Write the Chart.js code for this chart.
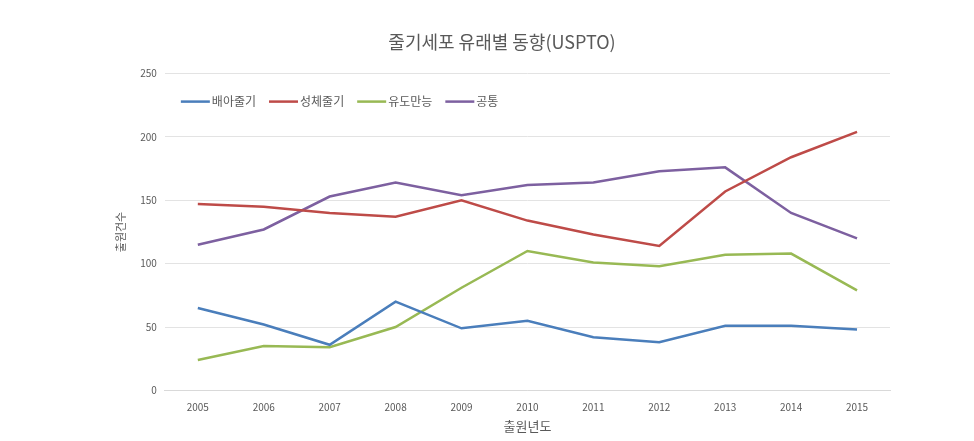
<!DOCTYPE html>
<html>
<head>
<meta charset="utf-8">
<script src="https://cdn.jsdelivr.net/npm/chart.js@4"></script>
<style>
  html, body { margin: 0; padding: 0; background: #fff; }
  #wrap { width: 974px; height: 441px; }
</style>
</head>
<body>
<div id="wrap"><canvas id="chart-line"></canvas></div>
<script>
const years = ["2005", "2006", "2007", "2008", "2009", "2010", "2011", "2012", "2013", "2014", "2015"];
const embryonic = [65, 52, 36, 70, 49, 55, 42, 38, 51, 51, 48];      // 배아줄기
const adult = [147, 145, 140, 137, 150, 134, 123, 114, 157, 184, 204]; // 성체줄기
const induced = [24, 35, 34, 50, 81, 110, 101, 98, 107, 108, 79];    // 유도만능
const common = [115, 127, 153, 164, 154, 162, 164, 173, 176, 140, 120]; // 공통
const yTicks = [0, 50, 100, 150, 200, 250];

const fontKR = "'Noto Sans CJK KR', 'Noto Sans', sans-serif";

function series(label, data, color) {
    return {
        label: label,
        data: data,
        borderColor: color,
        backgroundColor: color,
        borderWidth: 2.5,
        pointRadius: 0,
        tension: 0,
        fill: false
    };
}

// 범례를 차트 영역 안쪽 왼쪽 위에 가로로 그림 (엑셀 스타일)
const insideLegend = {
    id: "insideLegend",
    afterDraw(chart) {
        const ctx = chart.ctx;
        const area = chart.chartArea;
        let x = area.left + 16;
        const y = area.top + 28;
        ctx.save();
        ctx.font = "12px " + fontKR;
        ctx.textBaseline = "middle";
        chart.data.datasets.forEach(ds => {
            ctx.strokeStyle = ds.borderColor;
            ctx.lineWidth = 2.5;
            ctx.beginPath();
            ctx.moveTo(x, y);
            ctx.lineTo(x + 29, y);
            ctx.stroke();
            x += 31;
            ctx.fillStyle = "#595959";
            ctx.fillText(ds.label, x, y);
            x += ctx.measureText(ds.label).width + 13;
        });
        ctx.restore();
    }
};

document.addEventListener("DOMContentLoaded", () => {
    const ctx = document.getElementById("chart-line").getContext("2d");

    new Chart(ctx, {
        type: "line",
        data: {
            labels: years,
            datasets: [
                series("배아줄기", embryonic, "#4A7EBB"),
                series("성체줄기", adult, "#BE4B48"),
                series("유도만능", induced, "#98B954"),
                series("공통", common, "#7D60A0")
            ]
        },
        options: {
            responsive: true,
            maintainAspectRatio: false,
            animation: false,
            layout: { padding: { left: 114, right: 84, top: 8, bottom: 7 } },
            plugins: {
                title: {
                    display: true,
                    text: "줄기세포 유래별 동향(USPTO)",
                    color: "#595959",
                    font: { family: fontKR, size: 18, weight: "normal" },
                    padding: { top: 23, bottom: 21 }
                },
                legend: { display: false },
                tooltip: { enabled: false }
            },
            scales: {
                x: {
                    offset: true,
                    grid: { display: false },
                    border: { display: true, color: "#D9D9D9" },
                    ticks: { color: "#595959", font: { family: fontKR, size: 10 }, maxRotation: 0 },
                    title: {
                        display: true,
                        text: "출원년도",
                        color: "#595959",
                        font: { family: fontKR, size: 13 },
                        padding: { top: 2, bottom: 0 }
                    }
                },
                y: {
                    min: 0,
                    max: 250,
                    afterBuildTicks: (axis) => { axis.ticks = yTicks.map(v => ({ value: v })); },
                    grid: { color: "#E3E3E3", drawTicks: false },
                    border: { display: false },
                    ticks: { color: "#595959", font: { family: fontKR, size: 10 }, padding: 8 },
                    title: {
                        display: true,
                        text: "출원건수",
                        color: "#595959",
                        font: { family: fontKR, size: 11 },
                        padding: { top: 0, bottom: 5 }
                    }
                }
            }
        },
        plugins: [insideLegend]
    });
});
</script>
</body>
</html>
